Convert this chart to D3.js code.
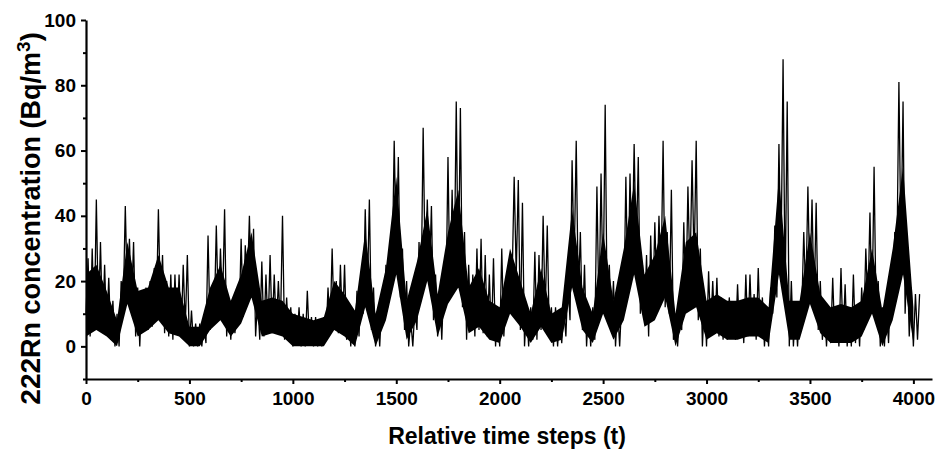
<!DOCTYPE html>
<html>
<head>
<meta charset="utf-8">
<script src="https://cdn.jsdelivr.net/npm/d3@7"></script>
<style>
  body { margin: 0; background: #fff; }
  svg { display: block; background: #fff; font-family: "Liberation Sans", Arial, sans-serif; font-weight: bold; }
</style>
</head>
<body>
<svg id="chart"></svg>
<script>
// 222Rn concentration (Bq/m3), one reading every 10 time steps (t = 0, 10, 20, ...)
const sampleStep = 10;
const radon = [
  10, 27, 3, 30, 6, 45, 8, 32, 5, 25,
  4, 21, 2, 14, 0, 10, 0, 20, 12, 43,
  15, 33, 12, 32, 3, 18, 0, 17, 5, 18,
  5, 20, 6, 24, 10, 42, 12, 28, 4, 20,
  3, 22, 2, 22, 5, 22, 3, 25, 6, 28,
  0, 11, 0, 7, 0, 7, 0, 7, 1, 34,
  5, 18, 8, 37, 10, 30, 12, 42, 3, 14,
  2, 14, 4, 14, 7, 33, 9, 31, 18, 40,
  15, 36, 3, 15, 2, 26, 3, 22, 5, 28,
  4, 22, 5, 20, 6, 40, 2, 15, 2, 12,
  0, 10, 1, 12, 0, 10, 0, 17, 1, 9,
  0, 9, 0, 8, 0, 9, 2, 18, 5, 30,
  6, 20, 4, 25, 5, 25, 2, 12, 0, 10,
  0, 17, 3, 22, 10, 42, 15, 45, 5, 18,
  0, 10, 0, 14, 8, 25, 12, 30, 22, 63,
  28, 58, 15, 30, 5, 20, 0, 8, 0, 12,
  5, 32, 15, 67, 22, 45, 20, 43, 8, 22,
  3, 18, 2, 20, 12, 58, 15, 48, 20, 75,
  18, 73, 12, 35, 2, 25, 5, 22, 3, 30,
  5, 33, 4, 28, 3, 22, 2, 27, 0, 10,
  0, 30, 3, 15, 10, 28, 20, 52, 22, 51,
  5, 44, 0, 12, 0, 12, 2, 29, 2, 28,
  5, 40, 10, 37, 3, 12, 0, 12, 0, 10,
  1, 12, 3, 20, 8, 57, 25, 63, 15, 35,
  5, 25, 0, 12, 0, 12, 2, 49, 10, 53,
  15, 74, 8, 25, 5, 20, 0, 12, 0, 14,
  10, 52, 15, 53, 25, 62, 28, 58, 10, 25,
  8, 28, 3, 34, 10, 38, 15, 40, 20, 63,
  12, 35, 10, 48, 2, 10, 0, 10, 5, 38,
  12, 49, 22, 57, 25, 63, 8, 30, 0, 15,
  0, 23, 5, 20, 4, 21, 3, 15, 2, 14,
  2, 15, 3, 13, 2, 19, 3, 14, 1, 22,
  3, 22, 4, 16, 2, 24, 3, 15, 0, 10,
  0, 18, 10, 37, 15, 62, 25, 88, 15, 75,
  0, 20, 0, 12, 0, 12, 10, 35, 15, 49,
  18, 45, 12, 44, 5, 20, 2, 12, 0, 12,
  1, 21, 2, 12, 0, 24, 2, 19, 0, 12,
  0, 22, 1, 12, 0, 18, 5, 30, 12, 41,
  10, 55, 8, 20, 0, 12, 0, 12, 1, 19,
  10, 35, 25, 81, 30, 75, 10, 28, 3, 18,
  0, 16, 2, 16
];

// edges of the dense (solid-looking) part of the trace, read every 50 time steps
const coreStep = 50;
const coreLow = [
  3, 5, 3, 0, 13, 3, 5, 8, 4, 3,
  0, 0, 5, 8, 3, 7, 15, 3, 4, 3,
  0, 0, 0, 0, 5, 3, 0, 12, 0, 8,
  22, 2, 8, 20, 3, 13, 18, 4, 6, 2,
  1, 10, 6, 1, 6, 1, 2, 18, 5, 1,
  10, 2, 8, 22, 6, 8, 15, 0, 10, 12,
  2, 4, 2, 2, 3, 3, 1, 22, 2, 2,
  13, 4, 1, 1, 1, 3, 10, 0, 8, 22,
  1
];
const coreHigh = [
  22, 25, 17, 8, 32, 17, 18, 28, 18, 18,
  6, 6, 18, 25, 14, 22, 35, 14, 15, 14,
  10, 9, 8, 9, 20, 16, 11, 35, 10, 24,
  52, 14, 26, 42, 16, 35, 48, 18, 24, 14,
  12, 30, 20, 10, 24, 10, 12, 42, 18, 10,
  35, 14, 30, 50, 22, 28, 40, 10, 32, 35,
  14, 16, 14, 14, 15, 15, 12, 52, 14, 14,
  35, 16, 12, 13, 12, 14, 30, 11, 30, 55,
  12
];

const xDomain = [0, 4090];
const yDomain = [-10, 100];
const xMajorTicks = [0, 500, 1000, 1500, 2000, 2500, 3000, 3500, 4000];
const xMinorTicks = [250, 750, 1250, 1750, 2250, 2750, 3250, 3750];
const yMajorTicks = [0, 20, 40, 60, 80, 100];
const yMinorTicks = [-10, 10, 30, 50, 70, 90];
const xTitle = 'Relative time steps (t)';

const config = {
  width: 936,
  height: 449,
  left: 86,
  right: 932,
  top: 20,
  bottom: 379
};

const svg = d3.select('#chart')
  .attr('width', config.width)
  .attr('height', config.height);

const data = radon.map((v, i) => ({ t: i * sampleStep, v: v }));
const core = coreLow.map((lo, i) => ({ t: i * coreStep, lo: lo, hi: coreHigh[i] }));

const xScale = d3.scaleLinear().domain(xDomain).range([config.left, config.right]);
const yScale = d3.scaleLinear().domain(yDomain).range([config.bottom, config.top]);

// dense band of the trace
const band = d3.area()
  .x(d => xScale(d.t))
  .y0(d => yScale(d.lo))
  .y1(d => yScale(d.hi));

svg.append('path')
  .datum(core)
  .attr('fill', '#000')
  .attr('d', band);

// the trace itself, spikes included
const line = d3.line()
  .x(d => xScale(d.t))
  .y(d => yScale(d.v));

svg.append('path')
  .datum(data)
  .attr('fill', 'none')
  .attr('stroke', '#000')
  .attr('stroke-width', 1.3)
  .attr('stroke-linejoin', 'bevel')
  .attr('d', line);

// minor ticks first, so the labelled axes sit on top
svg.append('g')
  .attr('transform', `translate(0,${config.bottom})`)
  .call(d3.axisBottom(xScale).tickValues(xMinorTicks).tickSize(3).tickFormat(''))
  .call(g => g.select('.domain').remove())
  .call(g => g.selectAll('line').attr('stroke-width', 2));

svg.append('g')
  .attr('transform', `translate(${config.left},0)`)
  .call(d3.axisLeft(yScale).tickValues(yMinorTicks).tickSize(3).tickFormat(''))
  .call(g => g.select('.domain').remove())
  .call(g => g.selectAll('line').attr('stroke-width', 2));

const xAxisG = svg.append('g')
  .attr('transform', `translate(0,${config.bottom})`)
  .call(d3.axisBottom(xScale).tickValues(xMajorTicks).tickFormat(d3.format('d'))
    .tickSize(5).tickSizeOuter(0).tickPadding(8));

const yAxisG = svg.append('g')
  .attr('transform', `translate(${config.left},0)`)
  .call(d3.axisLeft(yScale).tickValues(yMajorTicks).tickFormat(d3.format('d'))
    .tickSize(5).tickSizeOuter(0).tickPadding(5));

[xAxisG, yAxisG].forEach(g => {
  g.select('.domain').attr('stroke-width', 2.2);
  g.selectAll('.tick line').attr('stroke-width', 2);
  g.selectAll('.tick text')
    .attr('fill', '#000')
    .style('font-family', '"Liberation Sans", Arial, sans-serif')
    .style('font-weight', 'bold')
    .style('font-size', '19px');
});

// axis titles
svg.append('text')
  .attr('x', (config.left + config.right) / 2 - 2)
  .attr('y', 444)
  .attr('text-anchor', 'middle')
  .style('font-size', '23px')
  .text(xTitle);

const yTitle = svg.append('text')
  .attr('transform', `translate(40,${(config.top + config.bottom) / 2 + 19}) rotate(-90)`)
  .attr('text-anchor', 'middle')
  .style('font-size', '27px');

yTitle.append('tspan').style('font-size', '28px').text('222');
yTitle.append('tspan').text('Rn concentration (Bq/m');
yTitle.append('tspan').attr('dy', -10).style('font-size', '19px').text('3');
yTitle.append('tspan').attr('dy', 10).text(')');
</script>
</body>
</html>
